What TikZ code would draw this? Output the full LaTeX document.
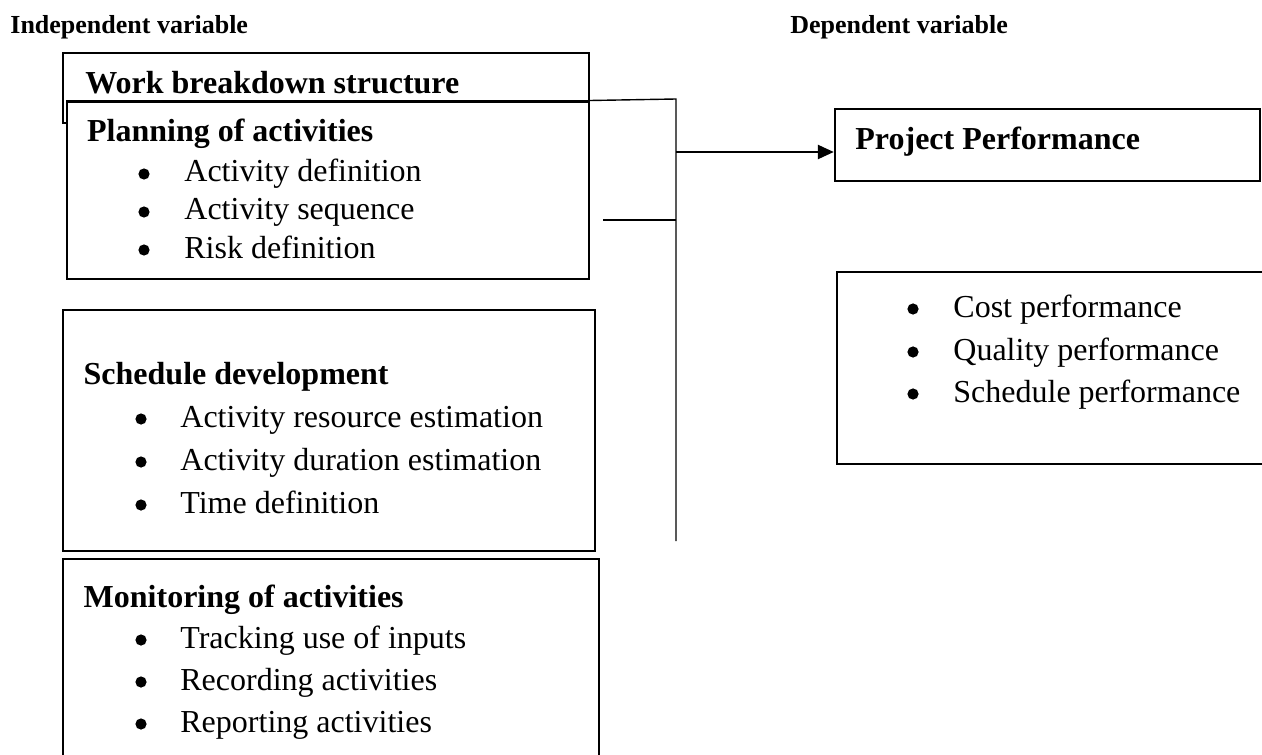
\documentclass[tikz,border=0pt]{standalone}
\usepackage{fontspec}
\setmainfont{Liberation Serif}
\usetikzlibrary{arrows.meta,fit}
\begin{document}
\begin{tikzpicture}[x=0.5pt,y=-0.5pt,
  box/.style={draw, line width=1.2pt, inner sep=0pt, fill=white},
  thinline/.style={line width=0.7pt},
  arrowline/.style={line width=1.2pt, -{Triangle[length=8pt,width=7pt]}},
  head/.style={anchor=base west, inner sep=0pt, font=\bfseries\fontsize{16}{19}\selectfont},
  itemtext/.style={anchor=base west, inner sep=0pt, font=\fontsize{16}{19}\selectfont},
  bul/.style={circle, fill, inner sep=0pt, minimum size=5.6pt},
  title/.style={anchor=base west, inner sep=0pt, font=\bfseries\fontsize{13}{15}\selectfont}]
\useasboundingbox (0,0) rectangle (1262,754);

% titles
\node[title] (iv) at (10,34) {Independent variable};
\node[title] (dv) at (790,34) {Dependent variable};

% work breakdown structure and planning
\node[box, fit={(62.7,53.3) (589,123)}] (wbs) {};
\node[box, fit={(66.7,101.7) (589,279)}] (plan) {};
\node[head] (wbst) at (85,94) {Work breakdown structure};
\node[head] (plant) at (86.7,142) {Planning of activities};
\node[bul] (pb1) at (144,174) {};
\node[itemtext] (pi1) at (184,182) {Activity definition};
\node[bul] (pb2) at (144,212) {};
\node[itemtext] (pi2) at (184,220) {Activity sequence};
\node[bul] (pb3) at (144,250) {};
\node[itemtext] (pi3) at (184,258) {Risk definition};

% schedule development
\node[box, fit={(62.7,310) (595,551)}] (sched) {};
\node[head] (schedt) at (83.3,384) {Schedule development};
\node[bul] (sb1) at (141,419) {};
\node[itemtext] (si1) at (180,427) {Activity resource estimation};
\node[bul] (sb2) at (141,462) {};
\node[itemtext] (si2) at (180,470) {Activity duration estimation};
\node[bul] (sb3) at (141,505) {};
\node[itemtext] (si3) at (180,513) {Time definition};

% monitoring
\node[box, fit={(62.7,559) (599,790)}] (mon) {};
\node[head] (mont) at (83.3,607) {Monitoring of activities};
\node[bul] (mb1) at (141,640) {};
\node[itemtext] (mi1) at (180,648) {Tracking use of inputs};
\node[bul] (mb2) at (141,682) {};
\node[itemtext] (mi2) at (180,690) {Recording activities};
\node[bul] (mb3) at (141,724) {};
\node[itemtext] (mi3) at (180,732) {Reporting activities};

% project performance
\node[box, fit={(835,109) (1260,181)}] (pp) {};
\node[head] (ppt) at (855,150) {Project Performance};

% outcomes
\node[box, fit={(837,272) (1290,464)}] (out) {};
\node[bul] (ob1) at (913,309) {};
\node[itemtext] (oi1) at (953,317) {Cost performance};
\node[bul] (ob2) at (913,352) {};
\node[itemtext] (oi2) at (953,360) {Quality performance};
\node[bul] (ob3) at (913,394) {};
\node[itemtext] (oi3) at (953,402) {Schedule performance};

% connectors
\coordinate (vtop) at (676,99);
\coordinate (vbot) at (676,541);
\coordinate (varr) at (676,152);
\coordinate (vmid) at (676,220);
\coordinate (lstart) at (603,220);
\draw[thinline] (plan.north east) -- (vtop) -- (vbot);
\draw[thinline] (lstart) -- (vmid);
\draw[arrowline] (varr) -- (pp.west |- varr);
\end{tikzpicture}
\end{document}
